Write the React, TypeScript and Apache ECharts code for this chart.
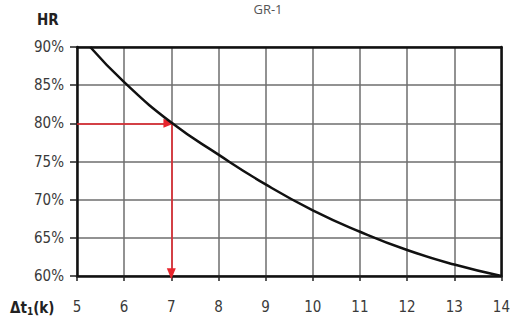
import React, { useEffect, useRef } from "react";
import * as echarts from "echarts";

const xValues = [5.28, 6, 7, 8, 9, 10, 11, 12, 13, 14];
const hrValues = [90, 85.4, 80.1, 75.9, 72.0, 68.6, 65.8, 63.4, 61.5, 60];
const readX = 7;
const readY = 80;
const titleText = "GR-1";
const yName = "HR";

export default function App() {
  const ref = useRef<HTMLDivElement>(null);
  useEffect(() => {
    const chart = echarts.init(ref.current!, null, { renderer: "svg" });
    const labelFont = "DejaVu Sans Condensed";
    const data = xValues.map((x, i) => [x, hrValues[i]]);
    chart.setOption({
      animation: false,
      backgroundColor: "#fff",
      grid: { left: 77, top: 47, right: 7, bottom: 44 },
      xAxis: [
        {
          type: "value",
          min: 5,
          max: 14,
          interval: 1,
          axisLine: { show: true, lineStyle: { color: "#111", width: 2.5 } },
          axisTick: { show: true, length: 5, lineStyle: { color: "#222", width: 1.5 } },
          axisLabel: { margin: 23, fontSize: 15, color: "#3a3a3a", fontFamily: labelFont },
          splitLine: { show: true, lineStyle: { color: "#6e6e6e", width: 1.5 } },
        },
        {
          type: "value",
          position: "top",
          min: 5,
          max: 14,
          interval: 1,
          axisLine: { show: true, lineStyle: { color: "#111", width: 2.5 } },
          axisTick: { show: false },
          axisLabel: { show: false },
          splitLine: { show: false },
        },
      ],
      yAxis: [
        {
          type: "value",
          min: 60,
          max: 90,
          interval: 5,
          axisLine: { show: true, lineStyle: { color: "#111", width: 2.5 } },
          axisTick: { show: true, length: 7, lineStyle: { color: "#222", width: 1.5 } },
          axisLabel: {
            margin: 13,
            fontSize: 15,
            color: "#3a3a3a",
            fontFamily: labelFont,
            formatter: "{value}%",
          },
          splitLine: { show: true, lineStyle: { color: "#6e6e6e", width: 1.5 } },
        },
        {
          type: "value",
          position: "right",
          min: 60,
          max: 90,
          interval: 5,
          axisLine: { show: true, lineStyle: { color: "#111", width: 2.5 } },
          axisTick: { show: false },
          axisLabel: { show: false },
          splitLine: { show: false },
        },
      ],
      series: [
        {
          type: "line",
          data,
          smooth: 0.5,
          symbol: "none",
          lineStyle: { color: "#111", width: 2.5 },
          z: 5,
          markLine: {
            silent: true,
            symbol: ["none", "triangle"],
            symbolSize: [9, 11],
            label: { show: false },
            lineStyle: { color: "#e8252d", width: 1.5, type: "solid" },
            data: [
              [{ coord: [5, readY] }, { coord: [readX - 0.05, readY] }],
              [{ coord: [readX, readY] }, { coord: [readX, 60.3] }],
            ],
          },
        },
      ],
      graphic: [
        {
          type: "text",
          x: 268,
          y: 2,
          style: {
            text: titleText,
            fill: "#555",
            font: "13px 'Open Sans'",
            textAlign: "center",
            textVerticalAlign: "top",
          },
        },
        {
          type: "text",
          x: 37,
          y: 12,
          style: {
            text: yName,
            fill: "#222",
            font: "bold 15px 'DejaVu Sans Condensed'",
            textVerticalAlign: "top",
          },
        },
        {
          type: "text",
          x: 10,
          y: 300,
          style: {
            text: "{a|Δt}{s|1}{a|(k)}",
            rich: {
              a: { fontSize: 15, fontWeight: "bold", fill: "#222", fontFamily: "DejaVu Sans Condensed" },
              s: { fontSize: 10, fontWeight: "bold", fill: "#222", fontFamily: "DejaVu Sans Condensed", padding: [6, 0, 0, 0] },
            },
            textVerticalAlign: "top",
          },
        },
      ],
    });
    return () => chart.dispose();
  }, []);
  return (
    <div
      ref={ref}
      style={{ position: "fixed", left: 0, top: 0, width: 513, height: 320 }}
    />
  );
}
